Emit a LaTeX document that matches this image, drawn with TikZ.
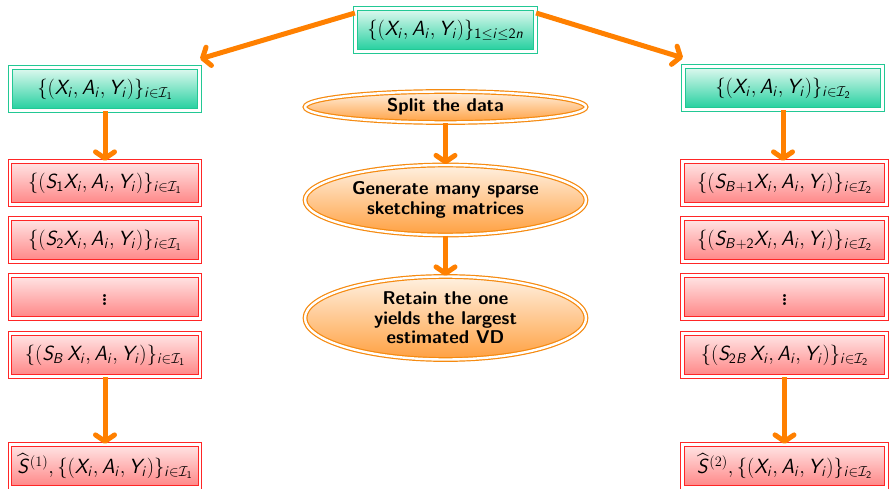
\documentclass[tikz,border=0pt]{standalone}
\usepackage{fix-cm}
\usepackage{amsmath}
\usetikzlibrary{shapes.geometric,arrows.meta}
\DeclareMathAlphabet{\mathsfit}{OT1}{cmss}{m}{sl}
\newcommand{\vx}{\mathsfit{X}_{\mathsfit{i}}}
\newcommand{\va}{\mathsfit{A}_{\mathsfit{i}}}
\newcommand{\vy}{\mathsfit{Y}_{\mathsfit{i}}}
\newcommand{\inI}[1]{\mathsfit{i}\in\mathcal{I}_{\mathsf{#1}}}
\newcommand{\bigdots}{{\fontsize{36}{36}\selectfont\boldmath$\vdots$}}
\definecolor{tealline}{HTML}{22C894}
\definecolor{greentop}{HTML}{E2FAF1}
\definecolor{greenbot}{HTML}{1ECF9C}
\definecolor{redline}{HTML}{FF2626}
\definecolor{redtop}{HTML}{FFE6E6}
\definecolor{redbot}{HTML}{FF8484}
\definecolor{ovalline}{HTML}{F58A10}
\definecolor{ovaltop}{HTML}{FFF1E2}
\definecolor{ovalbot}{HTML}{FFA040}
\definecolor{flowcol}{HTML}{FF8000}
\tikzset{
  dblframe/.style={line width=1.2pt, double=white, double distance=2.4pt},
  greenbox/.style={rectangle, dblframe, draw=tealline, top color=greentop,
    bottom color=greenbot, minimum height=43pt, inner sep=0pt,
    font=\fontsize{20.5}{22}\selectfont},
  redbox/.style={rectangle, dblframe, draw=redline, top color=redtop,
    bottom color=redbot, minimum height=43pt, inner sep=0pt,
    font=\fontsize{20.5}{22}\selectfont},
  ovalbox/.style={ellipse, dblframe, draw=ovalline, top color=ovaltop,
    bottom color=ovalbot, inner sep=0pt, minimum width=281pt, align=center,
    font=\fontsize{18.5}{19.5}\selectfont\sffamily\bfseries},
  flow/.style={draw=flowcol, line width=5pt,
    -{Straight Barb[length=6.5pt, width=19pt, round]}},
}
\begin{document}
\begin{tikzpicture}[x=1pt, y=-1pt]
\useasboundingbox (0,0) rectangle (891,489);

% data set and the two halves
\node[greenbox, minimum width=180pt] (top) at (445.5,30)
  {$\{(\vx,\va,\vy)\}_{\mathsf{1}\le\mathsfit{i}\le\mathsf{2}\mathsfit{n}}$};
\node[greenbox, minimum width=189pt] (lg) at (105,89)
  {$\{(\vx,\va,\vy)\}_{\inI{1}}$};
\node[greenbox, minimum width=199pt] (rg) at (783,88)
  {$\{(\vx,\va,\vy)\}_{\inI{2}}$};

% sketched copies, first half
\node[redbox, minimum width=190pt] (l1) at (105,183)
  {$\{(\mathsfit{S}_{\mathsf{1}}\vx,\va,\vy)\}_{\inI{1}}$};
\node[redbox, minimum width=190pt] (l2) at (105,240)
  {$\{(\mathsfit{S}_{\mathsf{2}}\vx,\va,\vy)\}_{\inI{1}}$};
\node[redbox, minimum width=190pt] (l3) at (105,297) {\bigdots};
\node[redbox, minimum width=190pt] (l4) at (105,355)
  {$\{(\mathsfit{S}_{\mathsfit{B}}\,\vx,\va,\vy)\}_{\inI{1}}$};
\node[redbox, minimum width=190pt] (l5) at (105,466)
  {$\widehat{\mathsfit{S}}^{(1)},\{(\vx,\va,\vy)\}_{\inI{1}}$};

% sketched copies, second half
\node[redbox, minimum width=204pt] (r1) at (784.5,183)
  {$\{(\mathsfit{S}_{\mathsfit{B}+\mathsf{1}}\vx,\va,\vy)\}_{\inI{2}}$};
\node[redbox, minimum width=204pt] (r2) at (784.5,240)
  {$\{(\mathsfit{S}_{\mathsfit{B}+\mathsf{2}}\vx,\va,\vy)\}_{\inI{2}}$};
\node[redbox, minimum width=204pt] (r3) at (784.5,297) {\bigdots};
\node[redbox, minimum width=204pt] (r4) at (784.5,355)
  {$\{(\mathsfit{S}_{\mathsf{2}\mathsfit{B}}\,\vx,\va,\vy)\}_{\inI{2}}$};
\node[redbox, minimum width=204pt] (r5) at (784.5,466)
  {$\widehat{\mathsfit{S}}^{(2)},\{(\vx,\va,\vy)\}_{\inI{2}}$};

% procedure steps
\node[ovalbox, minimum height=31pt] (e1) at (445.5,107) {Split the data};
\node[ovalbox, minimum height=70pt] (e2) at (445.5,200)
  {Generate many sparse\\sketching matrices};
\node[ovalbox, minimum height=83pt] (e3) at (445.5,318)
  {Retain the one\\yields the largest\\estimated VD};

% connectors
\draw[flow] ([yshift=17]top.west) -- ([yshift=8]lg.north east);
\draw[flow] ([yshift=17]top.east) -- ([yshift=8]rg.north west);
\draw[flow] (lg.south) -- (l1.north);
\draw[flow] (rg.south) -- (rg.south |- r1.north);
\draw[flow] (l4.south) -- (l5.north);
\draw[flow] (r4.south) -- (r5.north);
\draw[flow] (e1.south) -- (e2.north);
\draw[flow] (e2.south) -- (e3.north);
\end{tikzpicture}
\end{document}
